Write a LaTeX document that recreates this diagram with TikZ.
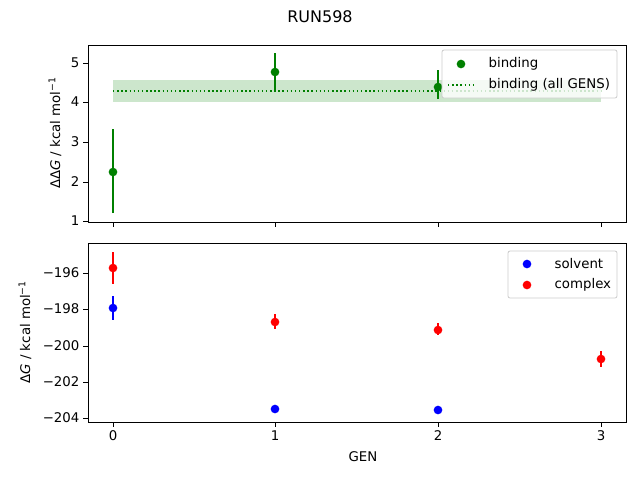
\documentclass[tikz,border=0pt]{standalone}
\usepackage{fontspec}
\setmainfont{DejaVu Sans}
\definecolor{mgreen}{RGB}{0,128,0}
\definecolor{mblue}{RGB}{0,0,255}
\definecolor{mred}{RGB}{255,0,0}
\tikzset{
  axbox/.style={draw=black, line width=0.6pt},
  tick/.style={line width=0.6pt},
  errbar/.style={line width=1.1pt},
  dot/.style={circle, inner sep=0, minimum size=6.5pt},
  lbl/.style={font=\fontsize{10}{12}\selectfont, inner sep=1pt},
  legbox/.style={draw=black!20, fill=white, fill opacity=0.8, rounded corners=1.5pt, line width=0.6pt}
}
\begin{document}
\begin{tikzpicture}[x=0.75pt, y=-0.75pt]
  \useasboundingbox (0,0) rectangle (640,480);
  \node[lbl, font=\fontsize{12}{14}\selectfont] (title) at (320,17) {RUN598};

  % top panel
  \fill[mgreen, opacity=0.2] (113,80) rectangle (601,102);
  \draw[mgreen, dotted, line width=1.1pt] (113,91) -- (601,91);
  \draw[errbar, mgreen] (113,213) -- (113,129) (275,92) -- (275,53) (438,99) -- (438,70);
  \foreach \xp/\yp in {113/172, 275/72, 438/87}
    \node[dot, fill=mgreen] at (\xp,\yp) {};
  \draw[axbox] (88,45) rectangle (626,222);
  \foreach \v/\yp in {1/221, 2/182, 3/142, 4/102, 5/63} {
    \draw[tick] (88,\yp) -- (83,\yp);
    \node[lbl, anchor=east] at (81,\yp) {\v};
  }
  \foreach \xp in {113, 275, 438, 601}
    \draw[tick] (\xp,222) -- (\xp,227);
  \node[lbl, rotate=90] (ylabtop) at (55,133) {ΔΔ\textit{G} / kcal mol\textsuperscript{−1}};
  \draw[legbox] (442,50) rectangle (617,98);
  \node[dot, fill=mgreen] (legbind) at (461,64) {};
  \node[lbl, anchor=west] at (487,64) {binding};
  \draw[mgreen, dotted, line width=1.1pt] (448,85) -- (476,85);
  \node[lbl, anchor=west] at (487,85) {binding (all GENS)};

  % bottom panel
  \draw[errbar, mred] (113,252) -- (113,284) (275,314) -- (275,329)
    (438,323) -- (438,335) (601,351) -- (601,367);
  \draw[errbar, mblue] (113,296) -- (113,320);
  \foreach \xp/\yp in {113/308, 275/409, 438/410}
    \node[dot, fill=mblue] at (\xp,\yp) {};
  \foreach \xp/\yp in {113/268, 275/322, 438/330, 601/359}
    \node[dot, fill=mred] at (\xp,\yp) {};
  \draw[axbox] (88,243) rectangle (626,422);
  \foreach \v/\yp in {196/273, 198/309, 200/346, 202/382, 204/418} {
    \draw[tick] (88,\yp) -- (83,\yp);
    \node[lbl, anchor=east] at (81,\yp) {−\v};
  }
  \foreach \v/\xp in {0/113, 1/275, 2/438, 3/601} {
    \draw[tick] (\xp,422) -- (\xp,427);
    \node[lbl, anchor=north] at (\xp,429) {\v};
  }
  \node[lbl, rotate=90] (ylabbot) at (25,332) {Δ\textit{G} / kcal mol\textsuperscript{−1}};
  \node[lbl] (xlab) at (363,457) {GEN};
  \draw[legbox] (508,251) rectangle (617,298);
  \node[dot, fill=mblue] (legsolv) at (527,264) {};
  \node[lbl, anchor=west] at (553,264) {solvent};
  \node[dot, fill=mred] (legcplx) at (527,285) {};
  \node[lbl, anchor=west] at (553,285) {complex};
\end{tikzpicture}
\end{document}
